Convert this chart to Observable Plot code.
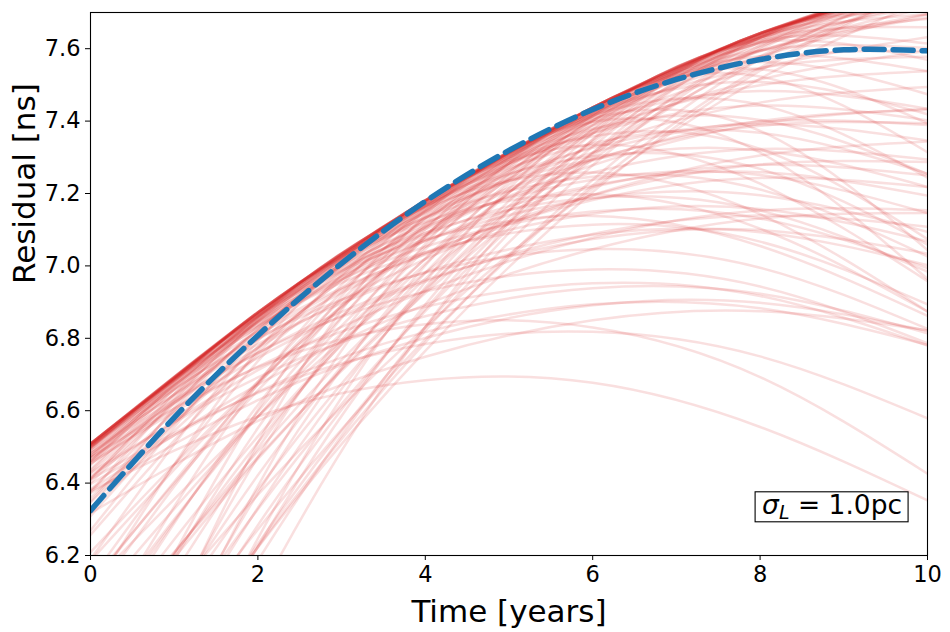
<!DOCTYPE html>
<html>
<head>
<meta charset="utf-8">
<script src="https://cdn.jsdelivr.net/npm/d3@7"></script>
<script src="https://cdn.jsdelivr.net/npm/@observablehq/plot@0.6"></script>
<style>
  html, body { margin: 0; padding: 0; background: #fff; }
  #chart { width: 950px; height: 632px; }
</style>
</head>
<body>
<div id="chart"></div>
<script>
// ---- data ----
const sampleTimes = [0, 2, 4, 6, 8, 10];

// red ensemble curves: residual [ns] at sampleTimes
const redCurves = [
  [6.497, 6.868, 7.181, 7.438, 7.639, 7.782],
  [6.472, 6.859, 7.180, 7.437, 7.630, 7.757],
  [6.500, 6.871, 7.180, 7.429, 7.618, 7.745],
  [6.460, 6.847, 7.172, 7.437, 7.642, 7.785],
  [6.507, 6.870, 7.163, 7.388, 7.545, 7.632],
  [6.381, 6.800, 7.149, 7.430, 7.643, 7.786],
  [6.461, 6.860, 7.181, 7.426, 7.595, 7.686],
  [6.509, 6.868, 7.165, 7.402, 7.579, 7.694],
  [6.401, 6.824, 7.169, 7.438, 7.631, 7.746],
  [6.493, 6.872, 7.165, 7.374, 7.499, 7.538],
  [6.428, 6.823, 7.156, 7.429, 7.642, 7.793],
  [6.328, 6.751, 7.108, 7.401, 7.630, 7.793],
  [6.501, 6.870, 7.181, 7.436, 7.635, 7.776],
  [6.473, 6.856, 7.177, 7.438, 7.639, 7.778],
  [6.505, 6.872, 7.177, 7.422, 7.607, 7.730],
  [6.491, 6.870, 7.179, 7.420, 7.593, 7.696],
  [6.434, 6.845, 7.178, 7.435, 7.616, 7.719],
  [6.411, 6.822, 7.163, 7.436, 7.641, 7.776],
  [6.508, 6.871, 7.172, 7.413, 7.594, 7.713],
  [6.347, 6.774, 7.131, 7.420, 7.641, 7.792],
  [6.359, 6.776, 7.127, 7.414, 7.637, 7.794],
  [6.509, 6.864, 7.149, 7.366, 7.515, 7.594],
  [6.509, 6.860, 7.133, 7.330, 7.451, 7.494],
  [6.509, 6.852, 7.101, 7.258, 7.323, 7.294],
  [6.509, 6.844, 7.069, 7.186, 7.195, 7.094],
  [6.509, 6.836, 7.037, 7.114, 7.067, 6.894],
  [6.509, 6.856, 7.117, 7.294, 7.387, 7.394],
  [6.509, 6.848, 7.085, 7.222, 7.259, 7.194],
  [6.509, 6.840, 7.053, 7.150, 7.131, 6.994],
  [6.506, 6.845, 7.106, 7.291, 7.400, 7.431],
  [6.503, 6.818, 7.031, 7.144, 7.157, 7.068],
  [6.501, 6.800, 6.981, 7.046, 6.995, 6.826],
  [6.505, 6.832, 7.069, 7.218, 7.279, 7.250],
  [6.499, 6.832, 7.091, 7.278, 7.393, 7.434],
  [6.487, 6.784, 6.983, 7.086, 7.093, 7.002],
  [6.493, 6.808, 7.037, 7.182, 7.243, 7.218],
  [6.481, 6.760, 6.929, 6.990, 6.943, 6.786],
  [6.482, 6.797, 7.034, 7.195, 7.280, 7.287],
  [6.469, 6.760, 6.961, 7.074, 7.099, 7.034],
  [6.455, 6.722, 6.887, 6.952, 6.917, 6.780],
  [6.453, 6.746, 6.957, 7.088, 7.139, 7.108],
  [6.429, 6.692, 6.861, 6.938, 6.923, 6.814],
  [6.459, 6.774, 7.019, 7.196, 7.305, 7.344],
  [6.397, 6.652, 6.817, 6.894, 6.883, 6.782],
  [6.419, 6.712, 6.931, 7.078, 7.153, 7.154],
  [6.372, 6.629, 6.801, 6.891, 6.898, 6.821],
  [6.378, 6.584, 6.684, 6.677, 6.555, 6.352],
  [6.381, 6.672, 6.893, 7.046, 7.131, 7.146],
  [6.317, 6.572, 6.749, 6.850, 6.875, 6.822],
  [6.410, 6.649, 6.784, 6.818, 6.750, 6.579],
  [6.471, 6.720, 6.839, 6.830, 6.693, 6.426],
  [5.107, 6.084, 6.831, 7.350, 7.643, 7.706],
  [5.357, 6.224, 6.893, 7.366, 7.643, 7.722],
  [5.549, 6.332, 6.941, 7.378, 7.643, 7.734],
  [5.709, 6.422, 6.981, 7.388, 7.643, 7.744],
  [5.869, 6.512, 7.021, 7.398, 7.643, 7.754],
  [5.997, 6.584, 7.053, 7.406, 7.643, 7.762],
  [6.125, 6.656, 7.085, 7.414, 7.643, 7.770],
  [5.375, 6.186, 6.831, 7.312, 7.629, 7.780],
  [5.537, 6.284, 6.881, 7.330, 7.631, 7.782],
  [5.699, 6.382, 6.931, 7.348, 7.633, 7.784],
  [5.942, 6.529, 7.006, 7.375, 7.636, 7.787],
  [6.185, 6.676, 7.081, 7.402, 7.639, 7.790],
  [5.509, 6.232, 6.821, 7.278, 7.603, 7.794],
  [5.659, 6.328, 6.875, 7.302, 7.609, 7.794],
  [5.909, 6.488, 6.965, 7.342, 7.619, 7.794],
  [6.059, 6.584, 7.019, 7.366, 7.625, 7.794],
  [6.209, 6.680, 7.073, 7.390, 7.631, 7.794],
  [5.541, 6.224, 6.789, 7.238, 7.571, 7.786],
  [5.904, 6.467, 6.936, 7.313, 7.598, 7.789],
  [5.573, 6.222, 6.765, 7.204, 7.539, 7.768],
  [5.645, 6.272, 6.797, 7.222, 7.547, 7.770],
  [5.933, 6.472, 6.925, 7.294, 7.579, 7.778],
  [5.823, 6.368, 6.831, 7.214, 7.517, 7.738],
  [6.117, 6.584, 6.981, 7.310, 7.571, 7.762],
  [5.429, 6.392, 7.061, 7.438, 7.523, 7.314],
  [5.609, 6.472, 7.081, 7.438, 7.543, 7.394],
  [5.789, 6.552, 7.101, 7.438, 7.563, 7.474],
  [5.933, 6.616, 7.117, 7.438, 7.579, 7.538],
  [6.077, 6.680, 7.133, 7.438, 7.595, 7.602],
  [6.257, 6.760, 7.153, 7.438, 7.615, 7.682],
  [5.284, 6.247, 6.956, 7.413, 7.618, 7.569],
  [5.529, 6.372, 7.001, 7.418, 7.623, 7.614],
  [5.774, 6.497, 7.046, 7.423, 7.628, 7.659],
  [5.970, 6.597, 7.082, 7.427, 7.632, 7.695],
  [6.117, 6.672, 7.109, 7.430, 7.635, 7.722],
  [6.349, 6.832, 7.181, 7.398, 7.483, 7.434],
  [6.413, 6.848, 7.181, 7.414, 7.547, 7.578],
  [6.269, 6.812, 7.181, 7.378, 7.403, 7.254],
  [6.189, 6.792, 7.181, 7.358, 7.323, 7.074],
  [6.093, 6.768, 7.181, 7.334, 7.227, 6.958],
  [6.437, 6.864, 7.173, 7.366, 7.443, 7.402],
  [6.410, 6.861, 7.170, 7.339, 7.368, 7.255],
  [6.374, 6.857, 7.166, 7.303, 7.268, 7.059],
  [6.329, 6.852, 7.161, 7.258, 7.143, 6.874],
  [6.309, 6.800, 7.173, 7.430, 7.571, 7.594],
  [6.134, 6.737, 7.166, 7.423, 7.508, 7.419],
  [5.959, 6.674, 7.159, 7.416, 7.445, 7.244],
  [5.759, 6.602, 7.151, 7.408, 7.373, 7.044],
  [5.509, 6.512, 7.141, 7.398, 7.313, 6.964],
  [6.481, 6.872, 7.153, 7.326, 7.391, 7.346],
  [6.473, 6.872, 7.145, 7.294, 7.319, 7.218],
  [6.461, 6.872, 7.133, 7.246, 7.211, 7.026],
  [6.449, 6.872, 7.121, 7.198, 7.103, 6.874],
  [6.504, 6.867, 7.136, 7.313, 7.398, 7.389],
  [6.501, 6.864, 7.109, 7.238, 7.251, 7.146],
  [6.499, 6.862, 7.091, 7.188, 7.153, 6.984],
  [6.497, 6.860, 7.073, 7.138, 7.055, 6.862]
];

// blue dashed reference curve
const blueTimes  = [0, 1, 2, 3, 4, 5, 6, 7, 8, 9, 10];
const blueValues = [6.324, 6.581, 6.808, 7.007, 7.178, 7.319, 7.432, 7.515, 7.570, 7.597, 7.594];

const xTicks = [0, 2, 4, 6, 8, 10];
const yTicks = [6.2, 6.4, 6.6, 6.8, 7.0, 7.2, 7.4, 7.6];
const xLabel = "Time [years]";
const yLabel = "Residual [ns]";
const annotSymbol = "σ";
const annotSub = "L";
const annotRest = " = 1.0pc";
const annotAt = [8.0, 6.3];

// ---- build tables for the library ----
const redRows = redCurves.flatMap((ys, i) => ys.map((y, j) => ({t: sampleTimes[j], y, id: i})));
const blueRows = blueValues.map((y, i) => ({t: blueTimes[i], y}));

const FONT = "'DejaVu Sans', 'Liberation Sans', sans-serif";

const plot = Plot.plot({
  width: 950,
  height: 632,
  marginLeft: 90,
  marginRight: 23,
  marginTop: 12,
  marginBottom: 77,
  style: {fontFamily: FONT, background: "white", color: "black", overflow: "visible"},
  x: {domain: [0, 10]},
  y: {domain: [6.2, 7.7]},
  marks: [
    Plot.line(redRows, {x: "t", y: "y", z: "id", stroke: "#d62728", strokeOpacity: 0.15,
      strokeWidth: 2.5, curve: "natural", clip: true}),
    Plot.line(blueRows, {x: "t", y: "y", stroke: "#1f77b4", strokeWidth: 5.5,
      strokeDasharray: "20,9", curve: "natural", clip: true}),
    Plot.frame({stroke: "black", strokeWidth: 1.1}),
    Plot.axisX({ticks: xTicks, tickSize: 5, tickPadding: 6, fontSize: 22.5, label: null,
      tickFormat: d => String(d)}),
    Plot.axisY({ticks: yTicks, tickSize: 5, tickPadding: 5, fontSize: 22.5, label: null,
      tickFormat: d => d.toFixed(1)}),
    Plot.text([xLabel], {frameAnchor: "bottom", dy: 66, lineAnchor: "bottom", fontSize: 31}),
    Plot.text([yLabel], {frameAnchor: "left", dx: -56, rotate: -90, lineAnchor: "bottom", fontSize: 31})
  ]
});

document.getElementById("chart").appendChild(plot);

// ---- boxed annotation (real text) ----
const NS = "http://www.w3.org/2000/svg";
const sx = plot.scale("x"), sy = plot.scale("y");
const ax = sx.apply(annotAt[0]) + 2.5;
const ay = sy.apply(annotAt[1]) - 5;
const g = document.createElementNS(NS, "g");
const txt = document.createElementNS(NS, "text");
txt.setAttribute("x", ax);
txt.setAttribute("y", ay);
txt.setAttribute("font-size", "26.5");
txt.setAttribute("font-family", FONT);
txt.setAttribute("text-anchor", "start");
txt.setAttribute("fill", "black");
const t1 = document.createElementNS(NS, "tspan");
t1.setAttribute("font-style", "italic");
t1.textContent = annotSymbol;
const t2 = document.createElementNS(NS, "tspan");
t2.setAttribute("font-style", "italic");
t2.setAttribute("font-size", "19");
t2.setAttribute("dy", "5");
t2.textContent = annotSub;
const t3 = document.createElementNS(NS, "tspan");
t3.setAttribute("dy", "-5");
t3.setAttribute("xml:space", "preserve");
t3.style.whiteSpace = "pre";
t3.textContent = annotRest;
txt.appendChild(t1); txt.appendChild(t2); txt.appendChild(t3);
g.appendChild(txt);
plot.appendChild(g);
const bb = txt.getBBox();
const rect = document.createElementNS(NS, "rect");
rect.setAttribute("x", bb.x - 7);
rect.setAttribute("y", ay - 22);
rect.setAttribute("width", bb.width + 13);
rect.setAttribute("height", 30);
rect.setAttribute("fill", "white");
rect.setAttribute("stroke", "black");
rect.setAttribute("stroke-width", "1.1");
g.insertBefore(rect, txt);
</script>
</body>
</html>
